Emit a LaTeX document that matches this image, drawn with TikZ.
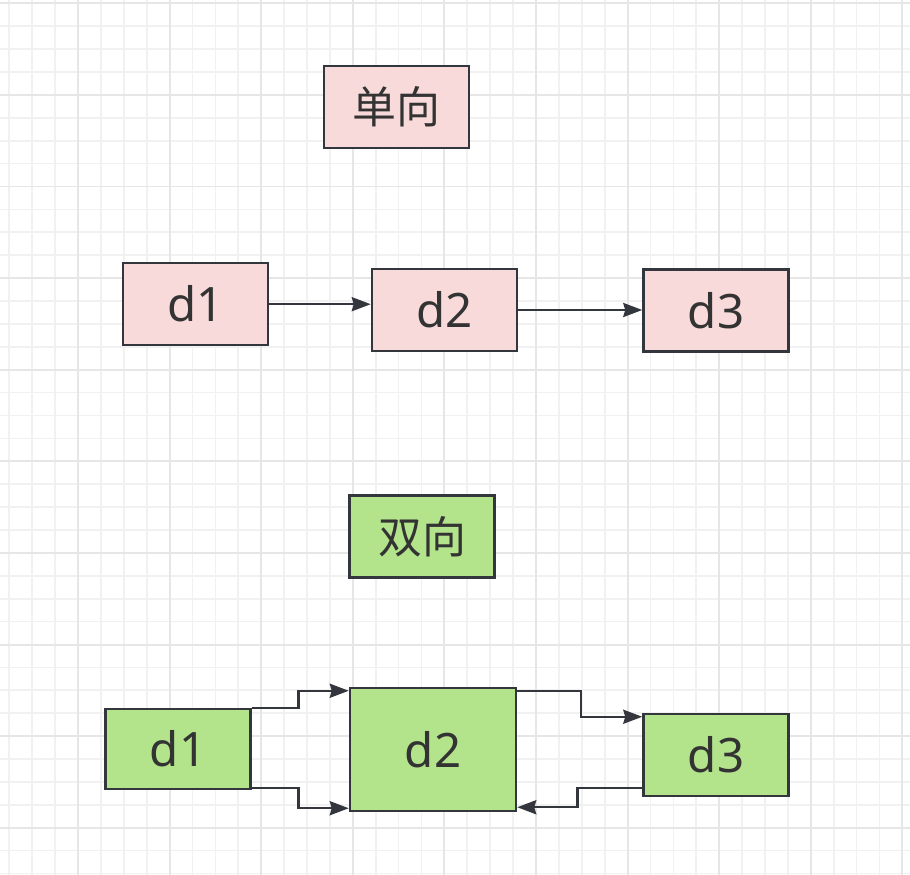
\documentclass[tikz,border=0pt]{standalone}
\usepackage{fontspec}
\setmainfont{Noto Sans}
\newfontfamily\cjk{Noto Sans CJK SC}
\usetikzlibrary{arrows.meta}

\definecolor{gridminor}{HTML}{F1F1F1}
\definecolor{gridmajor}{HTML}{E6E6E6}
\definecolor{boxline}{HTML}{33373D}
\definecolor{textgray}{HTML}{333333}
\definecolor{pinkfill}{HTML}{F8DADA}
\definecolor{greenfill}{HTML}{B3E38B}

\tikzset{
  block/.style={draw=boxline, line width=0.05cm, text=textgray,
    minimum width=2.9cm, minimum height=1.64cm, inner sep=0pt,
    font=\fontsize{27}{30}\selectfont},
  title/.style={block, font=\cjk\fontsize{25}{28}\selectfont},
  link/.style={draw=boxline, line width=0.05cm,
    -{Stealth[length=0.38cm, width=0.28cm, inset=0.04cm]}}
}

\begin{document}
\begin{tikzpicture}[x=0.02cm, y=-0.02cm]

\useasboundingbox (0,0) rectangle (910,875);
\fill [white] (0,0) rectangle (910,875);

%GRID
\foreach \i in {-3,...,36}
  \draw [gridminor, line width=0.034cm] (78+22.9*\i,0) -- (78+22.9*\i,875);
\foreach \i in {0,...,38}
  \draw [gridminor, line width=0.034cm] (0,3.3+22.9*\i) -- (910,3.3+22.9*\i);
\foreach \i in {0,...,9}
  \draw [gridmajor, line width=0.04cm] (78+91.6*\i,0) -- (78+91.6*\i,875);
\foreach \i in {0,...,9}
  \draw [gridmajor, line width=0.04cm] (0,3.3+91.6*\i) -- (910,3.3+91.6*\i);

%ONE WAY
\node [title, fill=pinkfill] (oneway) at (396.5,107) {单向};

\node [block, fill=pinkfill] (a1) at (195.7,304.2) {d1};
\node [block, fill=pinkfill] (a2) at (444.5,310) {d2};
\node [block, fill=pinkfill] (a3) at (716,310.5) {d3};

\draw [link] (a1.east) -- (a1.east -| a2.west);
\draw [link] (a2.east) -- (a2.east -| a3.west);

%TWO WAY
\node [title, fill=greenfill] (twoway) at (422,536.5) {双向};

\node [block, fill=greenfill, minimum height=1.6cm] (b1) at (178,749) {d1};
\node [block, fill=greenfill, minimum width=3.32cm, minimum height=2.46cm] (b2) at (433,749.5) {d2};
\node [block, fill=greenfill] (b3) at (716,755) {d3};

\draw [link] (b1.north east) -- ++(47,0) |- ([yshift=-0.08cm]b2.north west);
\draw [link] ([yshift=0.04cm]b1.south east) -- ++(47,0) |- ([yshift=0.08cm]b2.south west);
\draw [link] ([yshift=-0.08cm]b2.north east) -- ++(64,0) |- ([yshift=-0.08cm]b3.north west);
\draw [link] ([yshift=0.18cm]b3.south west) -- ++(-65,0) |- ([yshift=0.1cm]b2.south east);

\end{tikzpicture}
\end{document}
